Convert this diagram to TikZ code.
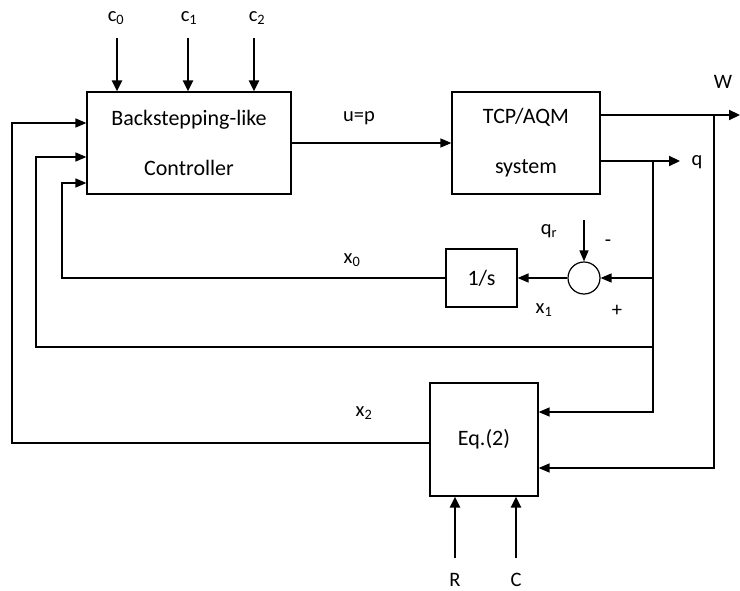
\documentclass[tikz,border=0pt]{standalone}
\usepackage{fontspec}
\setmainfont{Carlito}
\usetikzlibrary{arrows.meta,positioning,shapes}

\tikzset{
  block/.style={draw,line width=1.2pt,inner sep=0pt,align=center,font=\fontsize{22}{50}\selectfont},
  lbl/.style={inner sep=0pt,font=\fontsize{20.5}{22}\selectfont},
  arr/.style={line width=1.4pt,-{Triangle[length=11pt,width=9pt]}},
  thickarr/.style={line width=2.2pt,-{Triangle[length=11pt,width=10pt]}},
  wire/.style={line width=1.4pt}
}

\begin{document}
\begin{tikzpicture}[x=1pt,y=-1pt]
      \useasboundingbox (0,0) rectangle (740,591);
      % blocks
      \node[block,minimum width=204pt,minimum height=102pt] (ctrl) at (189,143) {Backstepping-like\\Controller};
      \node[block,minimum width=148pt,minimum height=102pt] (tcp) at (526,143) {TCP/AQM\\system};
      \node[block,minimum width=71pt,minimum height=58pt] (integ) at (481.5,278) {1/s};
      \node[block,minimum width=108pt,minimum height=113pt] (eq) at (484,439.5) {Eq.(2)};
      \node[circle,draw,line width=1.2pt,minimum size=32pt,inner sep=0pt] (sum) at (584,278) {};
      % labels
      \node[lbl] (lc0) at (116,18) {c\textsubscript{0}};
      \node[lbl] (lc1) at (189,18) {c\textsubscript{1}};
      \node[lbl] (lc2) at (257,18) {c\textsubscript{2}};
      \node[lbl] (lu) at (359,118) {u=p};
      \node[lbl] (lw) at (723,82) {W};
      \node[lbl] (lq) at (697,162) {q};
      \node[lbl] (lqr) at (549,231) {q\textsubscript{r}};
      \node[lbl] (lminus) at (608,243) {-};
      \node[lbl] (lplus) at (617,311) {+};
      \node[lbl] (lx1) at (544,310) {x\textsubscript{1}};
      \node[lbl] (lx0) at (352,260) {x\textsubscript{0}};
      \node[lbl] (lx2) at (364,413) {x\textsubscript{2}};
      \node[lbl] (lr) at (455,580) {R};
      \node[lbl] (lc) at (516,580) {C};
      % points
      \coordinate (c0) at (117,38);
      \coordinate (c1) at (188,38);
      \coordinate (c2) at (254,38);
      \coordinate (wend) at (740,115);
      \coordinate (qend) at (680,161);
      \coordinate (jq) at (653,161);
      \coordinate (jw) at (714,115);
      \coordinate (js) at (653,278);
      \coordinate (jb) at (653,347);
      \coordinate (qr) at (584,220);
      \coordinate (k0) at (62,278);
      \coordinate (k1) at (36,347);
      \coordinate (k2) at (12,443);
      \coordinate (r) at (455,558);
      \coordinate (c) at (516,558);
      % connectors
      \foreach \p in {c0,c1,c2}
        \draw[thickarr] (\p) -- (\p |- ctrl.north);
      \draw[arr] (ctrl.east) -- (tcp.west);
      \draw[thickarr] ([yshift=28pt]tcp.east) -- (wend);
      \draw[thickarr] ([yshift=-18pt]tcp.east) -- (qend);
      \draw[arr] (jq) |- ([yshift=27.5pt]eq.east);
      \draw[arr] (jw) |- ([yshift=-28.5pt]eq.east);
      \draw[arr] (js) -- (sum);
      \draw[arr] (qr) -- (sum);
      \draw[arr] (sum) -- (integ);
      \draw[arr] (integ.west) -- (k0) |- ([yshift=-40pt]ctrl.west);
      \draw[arr] (jb) -- (k1) |- ([yshift=-14pt]ctrl.west);
      \draw[arr] ([yshift=-3.5pt]eq.west) -- (k2) |- ([yshift=20pt]ctrl.west);
      \draw[thickarr] (r) -- (r |- eq.south);
      \draw[thickarr] (c) -- (c |- eq.south);
    \end{tikzpicture}
\end{document}
